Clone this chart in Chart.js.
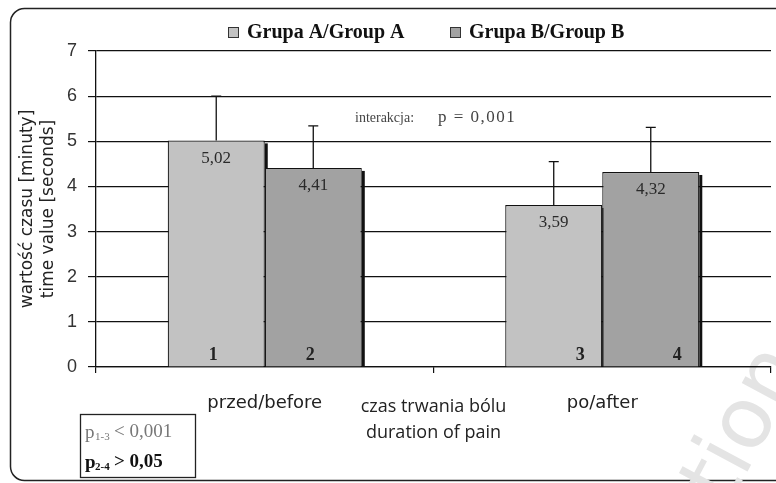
<!DOCTYPE html>
<html>
<head>
<meta charset="utf-8">
<script src="https://cdn.jsdelivr.net/npm/chart.js@4/dist/chart.umd.min.js"></script>
<style>
  html, body { margin: 0; padding: 0; background: #fff; }
  #wrap { width: 776px; height: 483px; position: relative; }
</style>
</head>
<body>
<div id="wrap"><canvas id="painChart"></canvas></div>
<script>
//DATA
var categories = ["przed/before", "po/after"];
var seriesNames = ["Grupa A/Group A", "Grupa B/Group B"];
var groupA = [5.02, 3.59];
var groupB = [4.41, 4.32];
var errorA = [0.98, 0.96];
var errorB = [0.93, 0.99];
var barNumbersA = ["1", "3"];
var barNumbersB = ["2", "4"];
var yTicks = [0, 1, 2, 3, 4, 5, 6, 7];
var yTitle = ["wartość czasu [minuty]", "time value [seconds]"];
var xTitle = ["czas trwania bólu", "duration of pain"];
var interactionText = ["interakcja:", "p = 0,001"];

//COLORS
var lightGray = "#c2c2c2";
var darkGray = "#a2a2a2";
var black = "#111111";

// Frame with rounded corners around everything:
var framePlugin = {
  id: "frame",
  beforeDraw: function (chart) {
    var ctx = chart.ctx;
    ctx.save();
    ctx.fillStyle = "#fff";
    ctx.fillRect(0, 0, chart.width, chart.height);
    ctx.strokeStyle = "#222";
    ctx.lineWidth = 1.5;
    ctx.beginPath();
    ctx.roundRect(10.5, 8.5, 780, 472, 14);
    ctx.stroke();

    // faint watermark in the corner
    ctx.translate(728, 508);
    ctx.rotate(-62 * Math.PI / 180);
    ctx.fillStyle = "#e4e4e4";
    ctx.font = "85px 'DejaVu Sans'";
    ctx.fillText("tion", 0, 0);
    ctx.restore();
  }
};

// Shadows on the right side of the bars:
var shadowPlugin = {
  id: "barShadow",
  beforeDatasetsDraw: function (chart) {
    var ctx = chart.ctx;
    ctx.save();
    ctx.fillStyle = black;
    chart.data.datasets.forEach(function (ds, i) {
      chart.getDatasetMeta(i).data.forEach(function (bar) {
        var p = bar.getProps(["x", "y", "base", "width"], true);
        ctx.fillRect(p.x + p.width / 2, p.y + 3, 3, p.base - p.y - 3);
      });
    });
    ctx.restore();
  }
};

// Error bars, values and bar numbers:
var labelPlugin = {
  id: "barLabels",
  afterDatasetsDraw: function (chart) {
    var ctx = chart.ctx;
    var yScale = chart.scales.y;
    var errors = [errorA, errorB];
    var numbers = [barNumbersA, barNumbersB];
    ctx.save();
    chart.data.datasets.forEach(function (ds, i) {
      chart.getDatasetMeta(i).data.forEach(function (bar, j) {
        var p = bar.getProps(["x", "y", "base", "width"], true);
        var top = yScale.getPixelForValue(ds.data[j] + errors[i][j]);
        ctx.strokeStyle = black;
        ctx.lineWidth = 1.3;
        ctx.beginPath();
        ctx.moveTo(p.x, p.y);
        ctx.lineTo(p.x, top);
        ctx.moveTo(p.x - 5, top);
        ctx.lineTo(p.x + 5, top);
        ctx.stroke();

        ctx.fillStyle = "#2a2a2a";
        ctx.font = "17px 'Liberation Serif'";
        ctx.textAlign = "center";
        ctx.textBaseline = "middle";
        ctx.fillText(ds.data[j].toFixed(2).replace(".", ","), p.x, p.y + 18);

        ctx.fillStyle = "#222";
        ctx.font = "bold 18px 'Liberation Serif'";
        var nx = j === 0 ? p.x - 3 : p.x + p.width / 2 - 22;
        ctx.fillText(numbers[i][j], nx, p.base - 11);
      });
    });
    ctx.restore();
  }
};

// Legend, interaction text and p-value box:
var notesPlugin = {
  id: "notes",
  afterDraw: function (chart) {
    var ctx = chart.ctx;
    var ds = chart.data.datasets;
    var legendX = [228, 450];
    ctx.save();
    ctx.textBaseline = "middle";
    ctx.textAlign = "left";
    ds.forEach(function (d, i) {
      ctx.fillStyle = d.backgroundColor;
      ctx.fillRect(legendX[i], 27, 11, 11);
      ctx.strokeStyle = "#333";
      ctx.lineWidth = 1;
      ctx.strokeRect(legendX[i] + 0.5, 27.5, 10, 10);
      ctx.fillStyle = "#111";
      ctx.font = "bold 20px 'Liberation Serif'";
      ctx.fillText(d.label, legendX[i] + 19, 33);
    });

    ctx.fillStyle = "#444";
    ctx.font = "14px 'Liberation Serif'";
    ctx.fillText(interactionText[0], 355, 118);
    ctx.font = "17px 'Liberation Serif'";
    ctx.letterSpacing = "1.5px";
    ctx.fillText(interactionText[1], 438, 118);
    ctx.letterSpacing = "0px";

    // box with p values
    ctx.strokeStyle = "#222";
    ctx.lineWidth = 1.3;
    ctx.strokeRect(80.5, 414.5, 115, 63);
    ctx.fillStyle = "#777";
    ctx.font = "19px 'Liberation Serif'";
    ctx.fillText("p", 85, 433);
    ctx.font = "11px 'Liberation Serif'";
    ctx.fillText("1-3", 95, 437);
    ctx.font = "19px 'Liberation Serif'";
    ctx.fillText("< 0,001", 114, 432);
    ctx.fillStyle = "#111";
    ctx.font = "bold 19px 'Liberation Serif'";
    ctx.fillText("p", 85, 463);
    ctx.font = "bold 11px 'Liberation Serif'";
    ctx.fillText("2-4", 95, 467);
    ctx.font = "bold 19px 'Liberation Serif'";
    ctx.fillText("> 0,05", 114, 462);
    ctx.restore();
  }
};

var data = {
  labels: categories,
  datasets: [
    {
      label: seriesNames[0],
      data: groupA,
      backgroundColor: lightGray,
      borderColor: black,
      borderWidth: 1.2
    },
    {
      label: seriesNames[1],
      data: groupB,
      backgroundColor: darkGray,
      borderColor: black,
      borderWidth: 1.2
    }
  ]
};

var config = {
  type: "bar",
  data: data,
  plugins: [framePlugin, shadowPlugin, labelPlugin, notesPlugin],
  options: {
    responsive: true,
    maintainAspectRatio: false,
    animation: false,
    devicePixelRatio: 1,
    categoryPercentage: 0.575,
    barPercentage: 1,
    layout: { padding: { top: 51, left: 6, right: 5, bottom: 6 } },
    plugins: {
      legend: { display: false },
      tooltip: { enabled: false }
    },
    scales: {
      x: {
        afterFit: function (scale) { scale.height = 110; },
        grid: { display: true, drawOnChartArea: false, offset: true, color: black, tickLength: 6, lineWidth: 1.2 },
        border: { display: true, color: black, width: 1.3 },
        ticks: { color: "#222", padding: 20, font: { family: "DejaVu Sans", size: 18 } },
        title: {
          display: true,
          text: xTitle,
          color: "#222",
          padding: { top: 0, bottom: 31 },
          font: { family: "Open Sans", size: 18, lineHeight: 1.44 }
        }
      },
      y: {
        min: 0,
        max: 7,
        afterFit: function (scale) { scale.width = 90; },
        afterBuildTicks: function (scale) {
          scale.ticks = yTicks.map(function (v) { return { value: v }; });
        },
        grid: { color: black, lineWidth: 1.2, tickLength: 8 },
        border: { display: true, color: black, width: 1.3 },
        ticks: { color: "#333", padding: 11, font: { family: "Liberation Sans", size: 18 } },
        title: {
          display: true,
          text: yTitle,
          color: "#222",
          padding: { top: 11, bottom: 0 },
          font: { family: "DejaVu Sans", size: 17, lineHeight: 1.24 }
        }
      }
    }
  }
};

var painChart = new Chart(document.getElementById("painChart"), config);
</script>
</body>
</html>
